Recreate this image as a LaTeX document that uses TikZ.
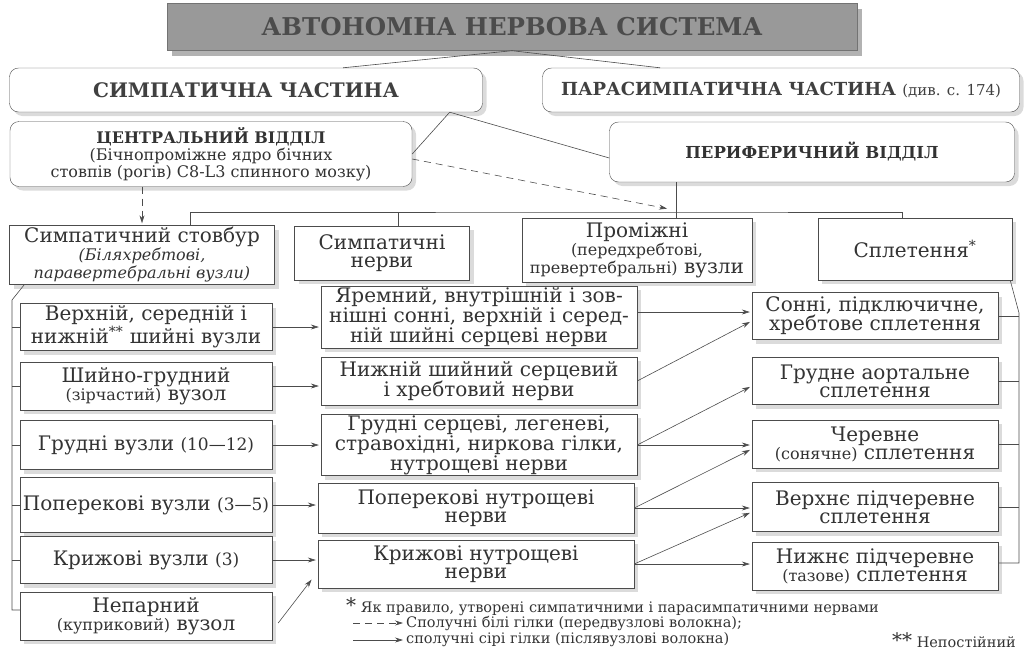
\documentclass[tikz,border=0pt]{standalone}
\usepackage{fontspec}
\setmainfont{DejaVu Serif}
\usepackage{tikz}
\usetikzlibrary{positioning, shadows, calc, arrows.meta}
\newcommand{\smtxt}{\fontsize{16}{16}\selectfont}
\newcommand{\numtxt}{\fontsize{17}{17}\selectfont}
\newcommand{\bigst}{\fontsize{20}{14}\selectfont}

\tikzset{
  shd/.style={drop shadow={shadow xshift=4pt, shadow yshift=-4pt, fill=black!28}},
  title/.style={fill=black!40, draw=black!55, minimum width=690pt, minimum height=47pt,
    font=\bfseries\fontsize{24.5}{24.5}\selectfont, text=black!70,
    drop shadow={shadow xshift=5pt, shadow yshift=-5pt, fill=black!60}},
  part/.style={shd, draw=black!70, fill=white, rounded corners=9pt, minimum height=44pt,
    font=\bfseries\fontsize{20}{20}\selectfont, text=black!75},
  dept/.style={shd, draw=black!70, fill=white, rounded corners=9pt, align=center,
    font=\fontsize{16}{17}\selectfont, text=black!80},
  box/.style={shd, draw=black!70, fill=white, align=center, inner sep=1pt,
    font=\fontsize{20}{18}\selectfont, text=black!80},
  lcol/.style={box, minimum width=252pt},
  mcol/.style={box, minimum width=316pt},
  rcol/.style={box, minimum width=246pt},
  legend/.style={font=\fontsize{14.5}{14.5}\selectfont, text=black!80, inner sep=1pt},
  ln/.style={draw=black!70, line width=0.6pt},
  arr/.style={->, draw=black!70, line width=0.6pt, shorten >=2pt},
  dsh/.style={dash pattern=on 7pt off 5pt}
}

\begin{document}
\begin{tikzpicture}[>={Stealth[length=8pt, width=5pt]}, x=1pt, y=-1pt]
\useasboundingbox (0,0) rectangle (1027,659);

% top levels
\node[title] (ans) at (512,27) {АВТОНОМНА НЕРВОВА СИСТЕМА};
\node[part, minimum width=473pt] (sym) at (246,90) {СИМПАТИЧНА ЧАСТИНА};
\node[part, minimum width=477pt, font=\bfseries\fontsize{18}{18}\selectfont] (par) at (781,90)
  {ПАРАСИМПАТИЧНА ЧАСТИНА {\mdseries\fontsize{15}{15}\selectfont(див. с. 174)}};
\node[dept, minimum width=402pt, minimum height=65pt] (cen) at (211,154)
  {{\bfseries\fontsize{16}{16}\selectfont ЦЕНТРАЛЬНИЙ ВІДДІЛ}\\(Бічнопроміжне ядро бічних\\стовпів (рогів) C8-L3 спинного мозку)};
\node[dept, minimum width=405pt, minimum height=60pt] (per) at (812,152)
  {\bfseries\fontsize{16.5}{16.5}\selectfont ПЕРИФЕРИЧНИЙ ВІДДІЛ};

% second row
\node[box, minimum width=265pt, minimum height=59pt] (trk) at (142,255)
  {Симпатичний стовбур\\{\itshape\smtxt(Біляхребтові,}\\{\itshape\smtxt паравертебральні вузли)}};
\node[box, minimum width=175pt, minimum height=54pt] (sn) at (382,253) {Симпатичні\\нерви};
\node[box, minimum width=230pt, minimum height=64pt] (int) at (637,250)
  {Проміжні\\{\smtxt(передхребтові,}\\{\smtxt превертебральні)} вузли};
\node[box, minimum width=194pt, minimum height=62pt] (plx) at (915,249) {Сплетення\textsuperscript{*}};

% ganglia
\node[lcol, minimum height=47pt] (l1) at (146,327) {Верхній, середній і\\нижній\textsuperscript{**} шийні вузли};
\node[lcol, minimum height=48pt] (l2) at (146,386) {Шийно-грудний\\{\smtxt(зірчастий)} вузол};
\node[lcol, minimum height=49pt] (l3) at (146,445) {Грудні вузли {\numtxt(10—12)}};
\node[lcol, minimum height=55pt] (l4) at (146,505) {Поперекові вузли {\numtxt(3—5)}};
\node[lcol, minimum height=47pt] (l5) at (146,560) {Крижові вузли {\numtxt(3)}};
\node[lcol, minimum height=48pt] (l6) at (146,616) {Непарний\\{\smtxt(куприковий)} вузол};

% nerves
\node[mcol, minimum height=59pt] (m1) at (479,317) {Яремний, внутрішній і зов-\\нішні сонні, верхній і серед-\\ній шийні серцеві нерви};
\node[mcol, minimum height=48pt] (m2) at (479,381) {Нижній шийний серцевий\\і хребтовий нерви};
\node[mcol, minimum height=60pt] (m3) at (479,445) {Грудні серцеві, легеневі,\\стравохідні, ниркова гілки,\\нутрощеві нерви};
\node[mcol, minimum height=50pt] (m4) at (476,508) {Поперекові нутрощеві\\нерви};
\node[mcol, minimum height=48pt] (m5) at (476,564) {Крижові нутрощеві\\нерви};

% plexuses
\node[rcol, minimum height=47pt] (p1) at (875,316) {Сонні, підключичне,\\хребтове сплетення};
\node[rcol, minimum height=47pt] (p2) at (875,381) {Грудне аортальне\\сплетення};
\node[rcol, minimum height=48pt] (p3) at (875,444) {Черевне\\{\smtxt(сонячне)} сплетення};
\node[rcol, minimum height=49pt] (p4) at (875,507) {Верхнє підчеревне\\сплетення};
\node[rcol, minimum height=48pt] (p5) at (875,566) {Нижнє підчеревне\\{\smtxt(тазове)} сплетення};

% upper links
\draw[ln] (ans.south) -- ($(sym.north)+(97,0)$);
\draw[ln] (ans.south) -- ($(par.north)+(-121,0)$);
\draw[ln] ($(sym.south east)+(-33,0)$) -- (cen.east);
\draw[ln] ($(sym.south east)+(-33,0)$) -- ($(per.west)+(0,6)$);
\coordinate (hub) at (676,212);
\draw[arr, dsh] ($(cen.east)+(0,5)$) -- ($(hub)+(-7,-3)$);
\draw[arr, dsh] (cen.south -| trk.north) -- (trk.north);
\draw[ln] (hub |- per.south) -- (hub |- int.north);
\draw[ln] ($(trk.north)+(48,0)$) |- (hub) -| ($(plx.north)+(-13,0)$);
\draw[ln] ($(sn.north)+(16,0)$) -- ($(sn.north |- hub)+(16,0)$);

% brackets
\coordinate (lt) at (12,300);
\coordinate (lb) at (12,610);
\draw[ln] ($(trk.south west)+(15,0)$) -- (lt) -- (lb) -- (lb -| l6.west);
\foreach \n in {l1,l2,l3,l4,l5} \draw[ln] (\n.west) -- (\n.west -| lt);
\coordinate (rt) at (1019,313);
\coordinate (rb) at (1019,563);
\draw[ln] ($(plx.south east)+(-2,0)$) -- (rt) -- (rb) -- (rb -| p5.east);
\foreach \n in {p1,p2,p3,p4} \draw[ln] (\n.east) -- (\n.east -| rt);

% ganglia -> nerves
\foreach \a/\b in {l1/m1, l2/m2, l3/m3, l4/m4, l5/m5}
  \draw[arr] (\a.east) -- (\a.east -| \b.west);
\draw[arr] ($(l6.east)+(6,7)$) -- ($(m5.west)+(-5,14)$);

% nerves -> plexuses
\draw[arr] ($(m1.east)+(0,-5)$) -- ($(m1.east -| p1.west)+(0,-5)$);
\foreach \a/\b in {m3/p3, m4/p4, m5/p5}
  \draw[arr] (\a.east) -- (\a.east -| \b.west);
\foreach \a/\b in {m2/p1, m3/p2, m4/p3, m5/p4}
  \draw[arr] (\a.east) -- ($(\b.west)+(0,5)$);

% legend
\node[legend, anchor=west] (note) at (345,607) {{\bigst*} Як правило, утворені симпатичними і парасимпатичними нервами};
\coordinate (dash0) at (353,623);
\node[legend, anchor=west] (white) at (405,623) {Сполучні білі гілки (передвузлові волокна);};
\draw[arr, dsh] (dash0) -- (white.west);
\coordinate (sol0) at (353,640);
\node[legend, anchor=west] (grey) at (405,640) {сполучні сірі гілки (післявузлові волокна)};
\draw[arr] (sol0) -- (grey.west);
\node[legend, anchor=east] (nonc) at (1017,640) {{\bigst**} Непостійний};
\end{tikzpicture}
\end{document}
